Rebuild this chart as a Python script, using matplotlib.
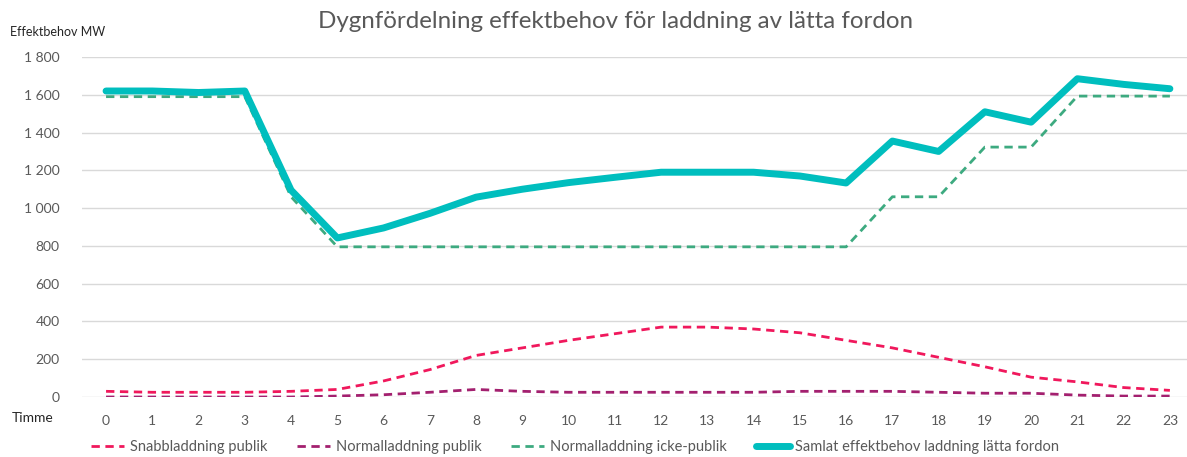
import matplotlib
matplotlib.use("Agg")
import matplotlib.pyplot as plt
from matplotlib.ticker import FuncFormatter

hours = list(range(24))
snabb_publik = [30, 25, 25, 25, 30, 40, 85, 145, 220, 260, 300, 335, 370, 370, 360, 340, 300, 260, 210, 160, 105, 80, 50, 35]
normal_publik = [0, 0, 0, 0, 0, 5, 12, 25, 40, 30, 25, 25, 25, 25, 25, 30, 30, 30, 25, 20, 20, 10, 5, 5]
normal_icke_publik = [1590, 1590, 1590, 1590, 1060, 795, 795, 795, 795, 795, 795, 795, 795, 795, 795, 795, 795, 1060, 1060, 1323, 1323, 1593, 1593, 1593]
samlat = [1620, 1620, 1612, 1620, 1095, 842, 895, 972, 1058, 1100, 1135, 1163, 1190, 1190, 1190, 1170, 1133, 1355, 1300, 1510, 1455, 1685, 1655, 1632]
series_labels = ["Snabbladdning publik", "Normalladdning publik", "Normalladdning icke-publik",
                 "Samlat effektbehov laddning lätta fordon"]
yticks = [0, 200, 400, 600, 800, 1000, 1200, 1400, 1600, 1800]

plt.rcParams['font.family'] = ['Lato', 'DejaVu Sans']
grey = "#595959"

fig = plt.figure(figsize=(11.87, 4.57), dpi=100)
ax = fig.add_axes([82/1187, 60/457, 1 - 82/1187, 340/457])

ax.plot(hours, snabb_publik, color="#F0185C", lw=2, ls=(0, (3, 2)), label=series_labels[0], zorder=3)
ax.plot(hours, normal_publik, color="#A3206F", lw=2, ls=(0, (3, 2)), label=series_labels[1], zorder=3)
ax.plot(hours, normal_icke_publik, color="#3DAA80", lw=2, ls=(0, (3, 2)), label=series_labels[2], zorder=3)
ax.plot(hours, samlat, color="#00BEBE", lw=5, solid_capstyle="round", solid_joinstyle="round",
        label=series_labels[3], zorder=4)

ax.set_xlim(-0.52, 23.37)
ax.set_ylim(0, 1800)
ax.set_yticks(yticks)
ax.yaxis.set_major_formatter(FuncFormatter(lambda v, p: f"{int(v):,}".replace(",", " ")))
ax.set_xticks(hours)
ax.grid(axis="y", color="#D9D9D9", lw=1)
ax.set_axisbelow(True)
for s in ax.spines.values():
    s.set_visible(False)
ax.tick_params(axis="both", length=0, labelsize=10, labelcolor=grey)
ax.tick_params(axis="y", pad=16)
ax.tick_params(axis="x", pad=13)

fig.text(12/1187, 1 - 418/457, "Timme", fontsize=10, color="#262626", va="center", ha="left")
fig.text(10/1187, 1 - 32/457, "Effektbehov MW", fontsize=9, color="#262626", va="center", ha="left")
fig.text(616/1187, 1 - 22/457, "Dygnfördelning effektbehov för laddning av lätta fordon",
         fontsize=17.4, color=grey, ha="center", va="center")

leg = fig.legend(loc="center", bbox_to_anchor=(575/1187, 1 - 447/457), ncol=4, frameon=False,
                 fontsize=10.5, handlelength=2.3, columnspacing=2.0, handletextpad=0.4)
for t in leg.get_texts():
    t.set_color(grey)

fig.savefig("out.png", dpi=100)
